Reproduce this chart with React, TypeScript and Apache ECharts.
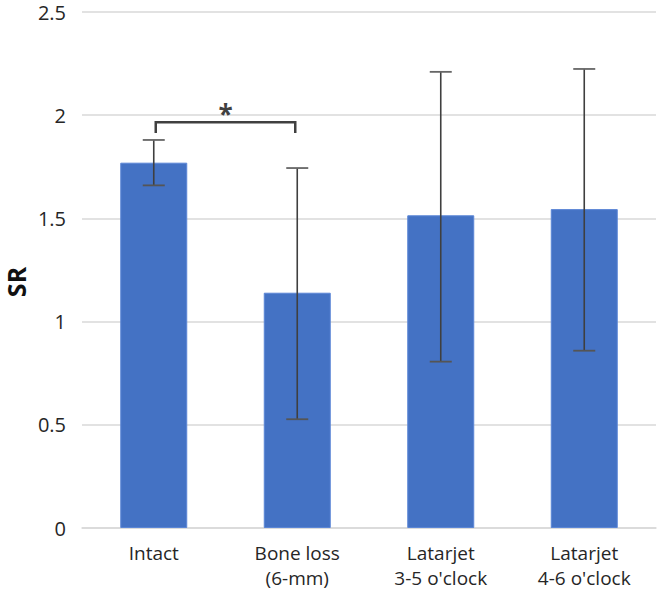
import React, { useEffect, useRef } from "react";
import * as echarts from "echarts";

const categories = ["Intact", "Bone loss\n(6-mm)", "Latarjet\n3-5 o'clock", "Latarjet\n4-6 o'clock"];
const meanSR = [1.77, 1.14, 1.515, 1.545];
const errLow = [1.66, 0.527, 0.806, 0.859];
const errHigh = [1.88, 1.744, 2.21, 2.224];
const yTicks = { min: 0, max: 2.5, interval: 0.5 };
// significance bracket: [fromIndex, toIndex, topValue, legBottomValue]
const sigBrackets = [[0, 1, 1.966, 1.914]];
const sigLabels = ["*"];
const yAxisTitle = "SR";

const FONT = "'Open Sans', 'Liberation Sans', sans-serif";
const TEXT = "#262626";

export default function App() {
  const ref = useRef<HTMLDivElement>(null);
  useEffect(() => {
    if (!ref.current) return;
    const chart = echarts.init(ref.current, null, { renderer: "svg" });
    chart.setOption({
      animation: false,
      backgroundColor: "#ffffff",
      grid: { left: 82, right: 6, top: 12, bottom: 70 },
      graphic: [
        {
          type: "text",
          x: 16,
          y: 282,
          rotation: Math.PI / 2,
          style: {
            text: yAxisTitle,
            align: "center",
            verticalAlign: "middle",
            fontFamily: FONT,
            fontSize: 25,
            fontWeight: "bold",
            fill: "#111",
          },
        },
      ],
      xAxis: {
        type: "category",
        data: categories,
        axisLine: { lineStyle: { color: "#d9d9d9", width: 1.5 } },
        axisTick: { show: false },
        axisLabel: {
          color: TEXT,
          fontFamily: FONT,
          fontSize: 19,
          lineHeight: 25,
          margin: 12,
          interval: 0,
        },
      },
      yAxis: {
        type: "value",
        min: yTicks.min,
        max: yTicks.max,
        interval: yTicks.interval,
        axisLine: { show: false },
        axisTick: { show: false },
        axisLabel: {
          color: TEXT,
          fontFamily: FONT,
          fontSize: 20,
          margin: 16,
          formatter: (v: number) => String(v),
        },
        splitLine: { lineStyle: { color: "#d9d9d9", width: 1.5 } },
      },
      series: [
        {
          type: "bar",
          data: meanSR,
          barWidth: 67,
          itemStyle: { color: "#4472c4", borderColor: "#5b86d6", borderWidth: 1 },
        },
        {
          type: "custom",
          data: categories.map((_, i) => [i, errLow[i], errHigh[i]]),
          encode: { x: 0, y: [1, 2] },
          z: 5,
          renderItem: (params: any, api: any) => {
            const lo = api.coord([api.value(0), api.value(1)]);
            const hi = api.coord([api.value(0), api.value(2)]);
            const x = lo[0];
            const cap = 11;
            const style = { stroke: "#3f3f3f", lineWidth: 1.6 };
            return {
              type: "group",
              children: [
                { type: "line", shape: { x1: x, y1: hi[1], x2: x, y2: lo[1] }, style },
                { type: "line", shape: { x1: x - cap, y1: hi[1], x2: x + cap, y2: hi[1] }, style: { stroke: "#666", lineWidth: 1.8 } },
                { type: "line", shape: { x1: x - cap, y1: lo[1], x2: x + cap, y2: lo[1] }, style: { stroke: "#555", lineWidth: 1.8 } },
              ],
            };
          },
        },
        {
          type: "custom",
          data: sigBrackets,
          encode: { x: [0, 1], y: [2, 3] },
          z: 6,
          renderItem: (params: any, api: any) => {
            const a = api.coord([api.value(0), api.value(2)]);
            const b = api.coord([api.value(1), api.value(3)]);
            const x1 = a[0] + 2;
            const x2 = b[0] - 2;
            const yTop = a[1];
            const yBot = b[1];
            const style = { stroke: "#404040", lineWidth: 2.5, fill: "none" };
            return {
              type: "group",
              children: [
                {
                  type: "polyline",
                  shape: { points: [[x1, yBot], [x1, yTop], [x2, yTop], [x2, yBot]] },
                  style,
                },
                {
                  type: "text",
                  style: {
                    text: sigLabels[params.dataIndex],
                    x: (x1 + x2) / 2,
                    y: yTop - 8,
                    align: "center",
                    verticalAlign: "middle",
                    fontFamily: FONT,
                    fontSize: 26,
                    fontWeight: "bold",
                    fill: "#404040",
                  },
                },
              ],
            };
          },
        },
      ],
    });
    return () => chart.dispose();
  }, []);
  return (
    <div
      ref={ref}
      style={{ position: "fixed", left: 0, top: 0, width: 662, height: 598 }}
    />
  );
}
